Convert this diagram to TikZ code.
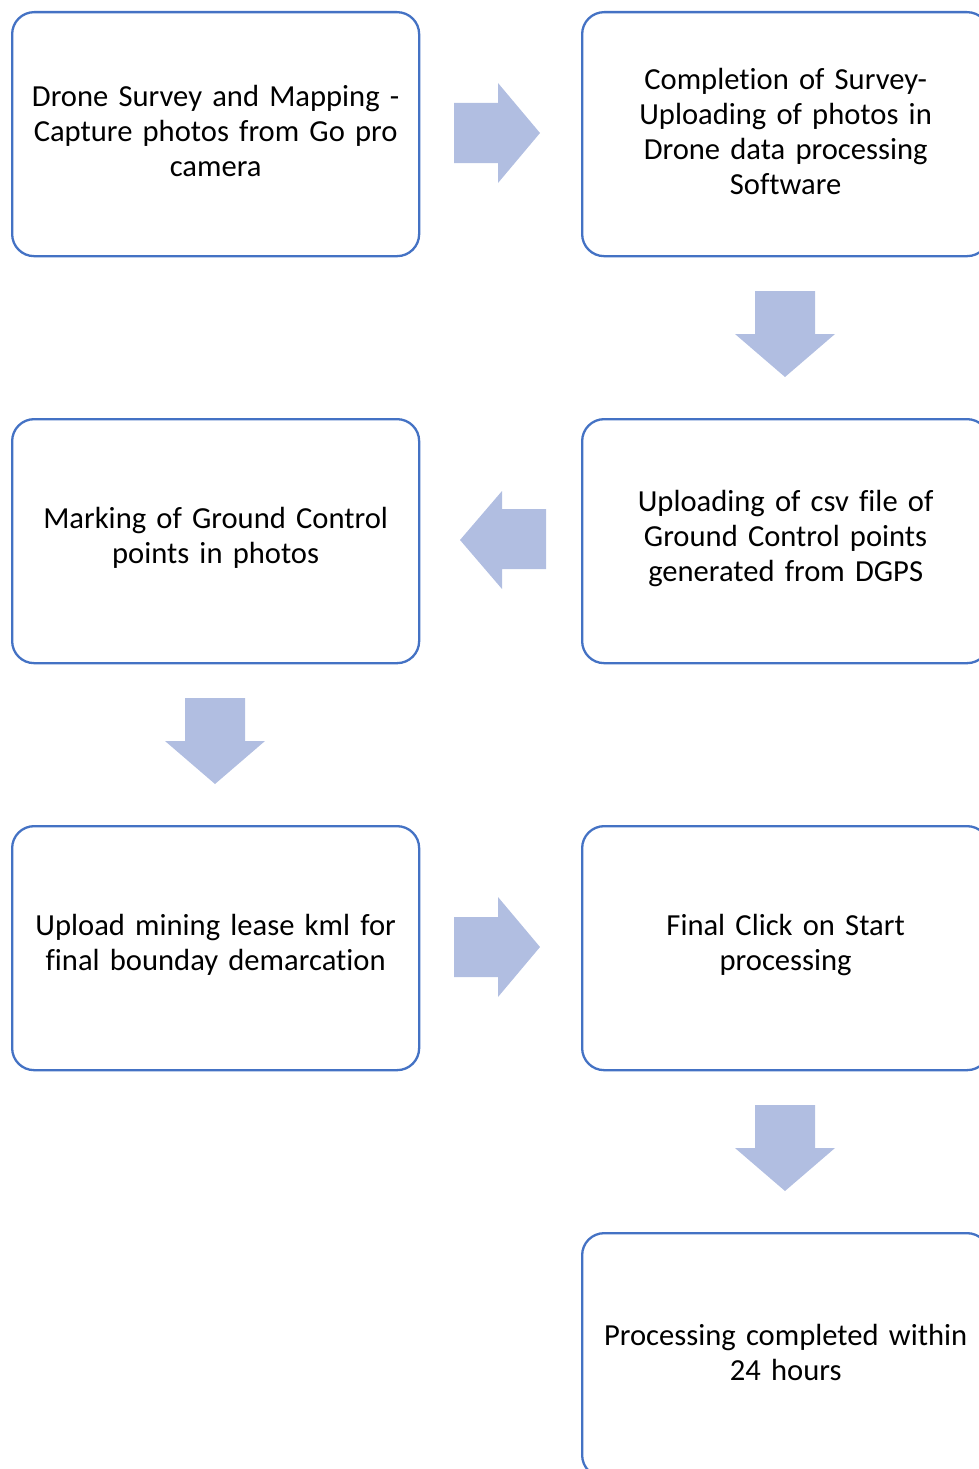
\documentclass[tikz,border=0pt]{standalone}
\usepackage{fontspec}
\setmainfont{Carlito}[Ligatures={NoCommon}]
\definecolor{boxline}{HTML}{4472C4}
\definecolor{arrowfill}{HTML}{B1BEE1}
\begin{document}
\begin{tikzpicture}[x=1pt,y=-1pt,
  stepbox/.style={draw=boxline,line width=2.3pt,rounded corners=22pt,fill=white,
    minimum width=407pt,minimum height=244pt,inner sep=0pt,anchor=north west},
  steptext/.style={text width=440pt,align=center,font=\fontsize{30.6}{35}\selectfont,inner sep=0pt},
  blockarrow/.style={fill=arrowfill,draw=none}]
\useasboundingbox (0,0) rectangle (979,1469);
% boxes
\node[stepbox] (b1) at (11,11) {};
\node[stepbox] (b2) at (581,11) {};
\node[stepbox] (b3) at (581,418) {};
\node[stepbox] (b4) at (11,418) {};
\node[stepbox] (b5) at (11,825) {};
\node[stepbox] (b6) at (581,825) {};
\node[stepbox] (b7) at (581,1232) {};
% texts
\node[steptext] (t1) at ([yshift=3pt]b1.center) {Drone Survey and Mapping -\\Capture photos from Go pro\\camera};
\node[steptext] (t2) at ([yshift=3pt]b2.center) {Completion of Survey-\\Uploading of photos in\\Drone data processing\\Software};
\node[steptext] (t3) at ([yshift=3pt]b3.center) {Uploading of csv file of\\Ground Control points\\generated from DGPS};
\node[steptext] (t4) at ([yshift=3pt]b4.center) {Marking of Ground Control\\points in photos};
\node[steptext] (t5) at ([yshift=3pt]b5.center) {Upload mining lease kml for\\final bounday demarcation};
\node[steptext] (t6) at ([yshift=3pt]b6.center) {Final Click on Start\\processing};
\node[steptext] (t7) at ([yshift=3pt]b7.center) {Processing completed within\\24 hours};
% block arrows
% right arrow 1
\fill[blockarrow] (454,103) -- (498,103) -- (498,83) -- (540,133) -- (498,183) -- (498,163) -- (454,163) -- cycle;
% down arrow 1
\fill[blockarrow] (755,291) -- (815,291) -- (815,334) -- (835,334) -- (785,377) -- (735,334) -- (755,334) -- cycle;
% left arrow
\fill[blockarrow] (546,509) -- (502,509) -- (502,491) -- (460,540) -- (502,589) -- (502,569) -- (546,569) -- cycle;
% down arrow 2
\fill[blockarrow] (185,698) -- (245,698) -- (245,741) -- (265,741) -- (215,784) -- (165,741) -- (185,741) -- cycle;
% right arrow 2
\fill[blockarrow] (454,917) -- (498,917) -- (498,897) -- (540,947) -- (498,997) -- (498,977) -- (454,977) -- cycle;
% down arrow 3
\fill[blockarrow] (755,1105) -- (815,1105) -- (815,1148) -- (835,1148) -- (785,1191) -- (735,1148) -- (755,1148) -- cycle;
\end{tikzpicture}
\end{document}
